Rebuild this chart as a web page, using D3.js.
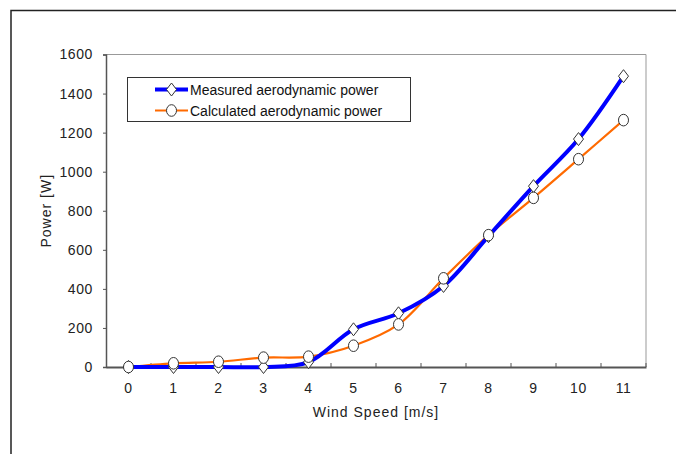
<!DOCTYPE html>
<html><head><meta charset="utf-8">
<script src="https://cdn.jsdelivr.net/npm/d3@7"></script>
<style>
html,body{margin:0;padding:0;background:#fff;}
svg{display:block;font-family:"Liberation Sans",Arial,sans-serif;}
</style></head>
<body>
<svg id="c" width="676" height="454"></svg>
<script>
const windSpeed = [0,1,2,3,4,5,6,7,8,9,10,11];
const measured = [0,0,0,0,25,193,275,415,670,926,1167,1489];
const calculated = [0,19,27,48,53,109,218,454,675,866,1064,1264];
const yTicks = [0,200,400,600,800,1000,1200,1400,1600];
const seriesNames = ["Measured aerodynamic power","Calculated aerodynamic power"];
const xTitle = "Wind Speed [m/s]";
const yTitle = "Power [W]";

const svg = d3.select("#c");
const L=106, R=646, T=54.5, B=367;

// outer frame
svg.append("path").attr("d","M11,454V10.5H676").attr("fill","none").attr("stroke","#222").attr("stroke-width",1.5);

const x = d3.scaleBand().domain(windSpeed).range([L,R]).padding(0);
const y = d3.scaleLinear().domain([0,1600]).range([B,T]);

// plot border (right/top light gray)
svg.append("path").attr("d",`M${L},${T}H${R}V${B}`).attr("fill","none").attr("stroke","#999").attr("stroke-width",1);

// y axis
const ya = svg.append("g").attr("transform",`translate(${L},0)`)
  .call(d3.axisLeft(y).tickValues(yTicks).tickSize(3).tickPadding(10).tickFormat(d3.format("d")));
ya.select(".domain").attr("stroke","#555").attr("stroke-width",1.5);
ya.selectAll(".tick line").attr("stroke","#555");
ya.selectAll("text").attr("font-size",14).attr("fill","#222").attr("letter-spacing","0.6px").attr("font-family","Liberation Sans, Arial");

// x axis
const xa = svg.append("g").attr("transform",`translate(0,${B})`)
  .call(d3.axisBottom(x).tickSize(0).tickPadding(16));
xa.select(".domain").attr("stroke","#555").attr("stroke-width",2);
xa.selectAll("text").attr("font-size",14).attr("fill","#222").attr("letter-spacing","0.6px").attr("font-family","Liberation Sans, Arial");
// tick marks between categories, pointing up
const bounds = windSpeed.slice(1).map(d=>x(d));
bounds.push(R);
svg.append("g").selectAll("line").data(bounds).join("line")
  .attr("x1",d=>d).attr("x2",d=>d).attr("y1",B).attr("y2",B-4)
  .attr("stroke","#555").attr("stroke-width",1);

// titles
svg.append("text").attr("x",(L+R)/2).attr("y",417).attr("text-anchor","middle")
  .attr("font-size",14).attr("letter-spacing","1px").attr("fill","#222").text(xTitle);
svg.append("text").attr("transform",`translate(51,${(T+B)/2}) rotate(-90)`).attr("text-anchor","middle")
  .attr("font-size",14).attr("letter-spacing","1px").attr("fill","#222").text(yTitle);

const cx = d=>x(d)+x.bandwidth()/2;
const line = d3.line().curve(d3.curveCatmullRom.alpha(0.5));

const mPts = windSpeed.map((d,i)=>[cx(d),y(measured[i])]);
const cPts = windSpeed.map((d,i)=>[cx(d),y(calculated[i])]);

svg.append("path").attr("d",line(cPts)).attr("fill","none").attr("stroke","#ff6a00").attr("stroke-width",2.2);
svg.append("path").attr("d",line(mPts)).attr("fill","none").attr("stroke","#0000ff").attr("stroke-width",4);

const diamond = "M0,-6.5L5,0L0,6.5L-5,0Z";
function drawDiamond(g,px,py){ g.append("path").attr("d",diamond).attr("transform",`translate(${px},${py})`).attr("fill","#fff").attr("stroke","#333").attr("stroke-width",1); }
function drawCircle(g,px,py){ g.append("ellipse").attr("cx",px).attr("cy",py).attr("rx",5).attr("ry",5.8).attr("fill","#fff").attr("stroke","#333").attr("stroke-width",1); }

const mg = svg.append("g");
mPts.forEach(p=>drawDiamond(mg,p[0],p[1]));
const cg = svg.append("g");
cPts.forEach(p=>drawCircle(cg,p[0],p[1]));

// legend
const lg = svg.append("g");
lg.append("rect").attr("x",127.5).attr("y",77.5).attr("width",283).attr("height",44).attr("fill","#fff").attr("stroke","#333").attr("stroke-width",1);
const rows = [
  {name:seriesNames[0], color:"#0000ff", w:4, y:89.5, m:"d"},
  {name:seriesNames[1], color:"#ff6a00", w:2.2, y:110.5, m:"c"}
];
rows.forEach(r=>{
  lg.append("line").attr("x1",155).attr("x2",188).attr("y1",r.y).attr("y2",r.y).attr("stroke",r.color).attr("stroke-width",r.w);
  if(r.m==="d") drawDiamond(lg,171.5,r.y); else drawCircle(lg,171.5,r.y);
  lg.append("text").attr("x",190).attr("y",r.y+5.5).attr("font-size",14).attr("fill","#111").text(r.name);
});
</script>
</body></html>
